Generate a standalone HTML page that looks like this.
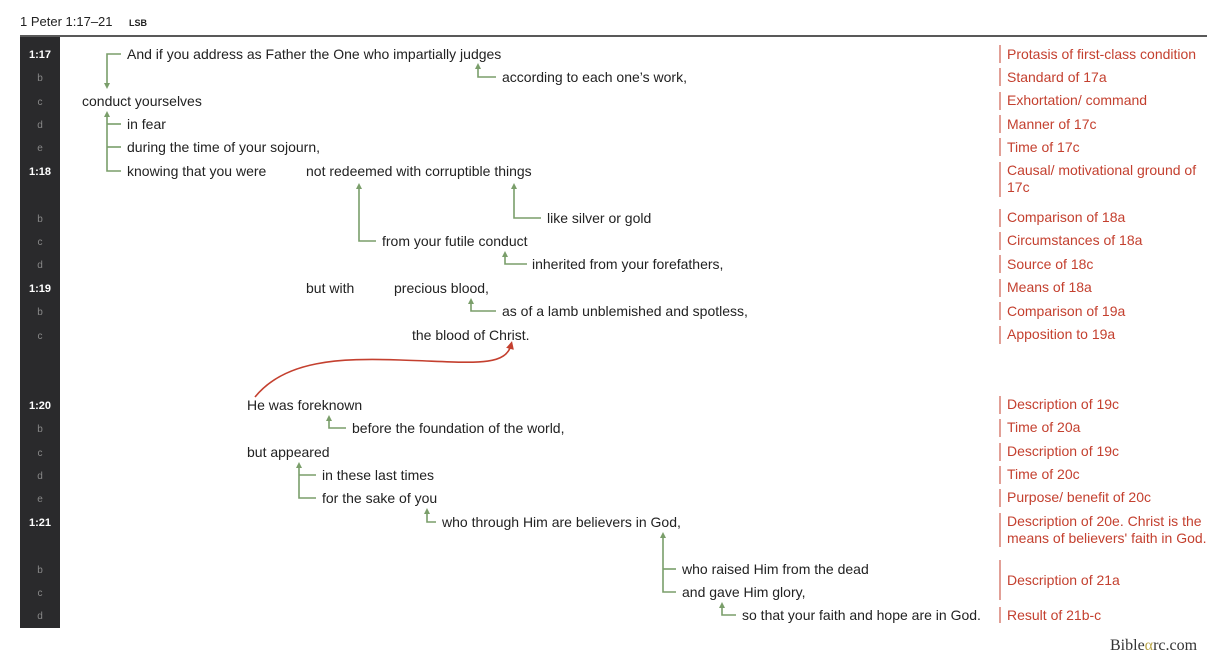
<!DOCTYPE html>
<html><head><meta charset="utf-8"><style>
html,body{margin:0;padding:0;background:#fff;}
svg{display:block;font-family:"Liberation Sans",Arial,sans-serif;}
.t{font-size:14px;fill:#222;}
.r{font-size:14px;fill:#c4402f;}
.n{font-size:10px;fill:#888;text-anchor:middle;}
.nb{font-size:11px;fill:#fff;font-weight:bold;text-anchor:middle;}
.g{stroke:#7a9e6a;stroke-width:1.6;fill:none;}
.rl{stroke:#c4402f;stroke-width:1;}
</style></head><body>
<svg width="1225" height="663" viewBox="0 0 1225 663">
<defs>
<marker id="a" markerWidth="6" markerHeight="6" refX="3" refY="3" orient="auto" markerUnits="userSpaceOnUse"><path d="M0,0 L6,3 L0,6 z" fill="#7a9e6a"/></marker>
<marker id="ar" markerWidth="8" markerHeight="8" refX="4" refY="4" orient="auto" markerUnits="userSpaceOnUse"><path d="M0,0 L8,4 L0,8 z" fill="#c4402f"/></marker>
</defs>
<text x="20" y="26" style="font-size:13px;fill:#222">1 Peter 1:17–21</text>
<text x="129" y="26" style="font-size:9px;font-weight:bold;fill:#222">LSB</text>
<line x1="20" y1="36" x2="1207" y2="36" stroke="#222" stroke-width="1.5"/>
<rect x="20" y="37" width="40" height="591" fill="#2a2a2c"/>
<g>
<text x="40" y="58" class="nb">1:17</text><text x="40" y="81" class="n">b</text><text x="40" y="105" class="n">c</text><text x="40" y="128" class="n">d</text><text x="40" y="151" class="n">e</text>
<text x="40" y="175" class="nb">1:18</text><text x="40" y="222" class="n">b</text><text x="40" y="245" class="n">c</text><text x="40" y="268" class="n">d</text>
<text x="40" y="292" class="nb">1:19</text><text x="40" y="315" class="n">b</text><text x="40" y="339" class="n">c</text>
<text x="40" y="409" class="nb">1:20</text><text x="40" y="432" class="n">b</text><text x="40" y="456" class="n">c</text><text x="40" y="479" class="n">d</text><text x="40" y="502" class="n">e</text>
<text x="40" y="526" class="nb">1:21</text><text x="40" y="573" class="n">b</text><text x="40" y="596" class="n">c</text><text x="40" y="619" class="n">d</text>
</g>
<g class="t">
<text x="127" y="59">And if you address as Father the One who impartially judges</text>
<text x="502" y="82">according to each one’s work,</text>
<text x="82" y="106">conduct yourselves</text>
<text x="127" y="129">in fear</text>
<text x="127" y="152">during the time of your sojourn,</text>
<text x="127" y="176">knowing that you were</text>
<text x="306" y="176">not redeemed with corruptible things</text>
<text x="547" y="223">like silver or gold</text>
<text x="382" y="246">from your futile conduct</text>
<text x="532" y="269">inherited from your forefathers,</text>
<text x="306" y="293">but with</text>
<text x="394" y="293">precious blood,</text>
<text x="502" y="316">as of a lamb unblemished and spotless,</text>
<text x="412" y="340">the blood of Christ.</text>
<text x="247" y="410">He was foreknown</text>
<text x="352" y="433">before the foundation of the world,</text>
<text x="247" y="457">but appeared</text>
<text x="322" y="480">in these last times</text>
<text x="322" y="503">for the sake of you</text>
<text x="442" y="527">who through Him are believers in God,</text>
<text x="682" y="574">who raised Him from the dead</text>
<text x="682" y="597">and gave Him glory,</text>
<text x="742" y="620">so that your faith and hope are in God.</text>
</g>
<g>
<path class="g" d="M121,54 H107 V86" marker-end="url(#a)"/>
<path class="g" d="M496,77 H478 V66" marker-end="url(#a)"/>
<path class="g" d="M121,171 H107 V114" marker-end="url(#a)"/>
<path class="g" d="M121,124 H107"/><path class="g" d="M121,147 H107"/>
<path class="g" d="M376,241 H359 V186" marker-end="url(#a)"/>
<path class="g" d="M541,218 H514 V186" marker-end="url(#a)"/>
<path class="g" d="M527,264 H505 V254" marker-end="url(#a)"/>
<path class="g" d="M496,311 H471 V301" marker-end="url(#a)"/>
<path class="g" d="M346,428 H329 V418" marker-end="url(#a)"/>
<path class="g" d="M316,498 H299 V465" marker-end="url(#a)"/>
<path class="g" d="M316,475 H299"/>
<path class="g" d="M436,522 H427 V511" marker-end="url(#a)"/>
<path class="g" d="M676,592 H663 V535" marker-end="url(#a)"/>
<path class="g" d="M676,569 H663"/>
<path class="g" d="M736,615 H722 V605" marker-end="url(#a)"/>
</g>
<path d="M255,397 C285,360 340,358 400,360 C470,362 505,368 511,345" stroke="#c4402f" stroke-width="1.6" fill="none" marker-end="url(#ar)"/>
<g>
<line x1="1000" y1="45" x2="1000" y2="63" class="rl"/><text x="1007" y="59" class="r">Protasis of first-class condition</text>
<line x1="1000" y1="68" x2="1000" y2="86" class="rl"/><text x="1007" y="82" class="r">Standard of 17a</text>
<line x1="1000" y1="92" x2="1000" y2="110" class="rl"/><text x="1007" y="105" class="r">Exhortation/ command</text>
<line x1="1000" y1="115" x2="1000" y2="133" class="rl"/><text x="1007" y="129" class="r">Manner of 17c</text>
<line x1="1000" y1="138" x2="1000" y2="156" class="rl"/><text x="1007" y="152" class="r">Time of 17c</text>
<line x1="1000" y1="162" x2="1000" y2="197" class="rl"/><text x="1007" y="175" class="r">Causal/ motivational ground of</text><text x="1007" y="192" class="r">17c</text>
<line x1="1000" y1="209" x2="1000" y2="227" class="rl"/><text x="1007" y="222" class="r">Comparison of 18a</text>
<line x1="1000" y1="232" x2="1000" y2="250" class="rl"/><text x="1007" y="245" class="r">Circumstances of 18a</text>
<line x1="1000" y1="255" x2="1000" y2="273" class="rl"/><text x="1007" y="269" class="r">Source of 18c</text>
<line x1="1000" y1="279" x2="1000" y2="297" class="rl"/><text x="1007" y="292" class="r">Means of 18a</text>
<line x1="1000" y1="302" x2="1000" y2="320" class="rl"/><text x="1007" y="316" class="r">Comparison of 19a</text>
<line x1="1000" y1="326" x2="1000" y2="344" class="rl"/><text x="1007" y="339" class="r">Apposition to 19a</text>
<line x1="1000" y1="396" x2="1000" y2="414" class="rl"/><text x="1007" y="409" class="r">Description of 19c</text>
<line x1="1000" y1="419" x2="1000" y2="437" class="rl"/><text x="1007" y="432" class="r">Time of 20a</text>
<line x1="1000" y1="443" x2="1000" y2="461" class="rl"/><text x="1007" y="456" class="r">Description of 19c</text>
<line x1="1000" y1="466" x2="1000" y2="484" class="rl"/><text x="1007" y="479" class="r">Time of 20c</text>
<line x1="1000" y1="489" x2="1000" y2="507" class="rl"/><text x="1007" y="502" class="r">Purpose/ benefit of 20c</text>
<line x1="1000" y1="513" x2="1000" y2="547" class="rl"/><text x="1007" y="526" class="r">Description of 20e. Christ is the</text><text x="1007" y="543" class="r">means of believers' faith in God.</text>
<line x1="1000" y1="560" x2="1000" y2="600" class="rl"/><text x="1007" y="585" class="r">Description of 21a</text>
<line x1="1000" y1="607" x2="1000" y2="623" class="rl"/><text x="1007" y="620" class="r">Result of 21b-c</text>
</g>
<text x="1110" y="650" style="font-family:'Liberation Serif',serif;font-size:16px;fill:#333">Bible<tspan fill="#b9a54a">α</tspan>rc.com</text>
</svg>
</body></html>
